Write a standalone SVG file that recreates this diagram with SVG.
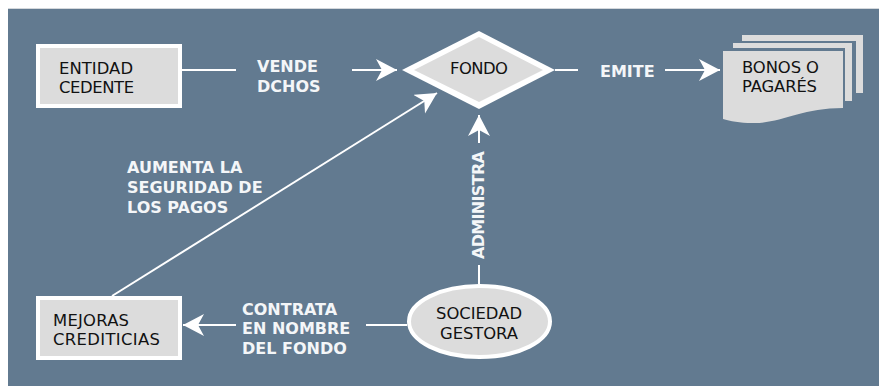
<svg xmlns="http://www.w3.org/2000/svg" width="879" height="387" viewBox="0 0 879 387">
<style>
.n{font-family:"DejaVu Sans","Liberation Sans",sans-serif;font-size:16.4px;fill:#111}
.l{font-family:"DejaVu Sans","Liberation Sans",sans-serif;font-size:16px;font-weight:bold;fill:#f4f6f8}
.box{fill:#dcdcdc;stroke:#fff;stroke-width:4}
.c{fill:none;stroke:#fff;stroke-width:2}
.p{fill:#dcdcdc}
</style>
<defs>
<marker id="a" markerUnits="userSpaceOnUse" markerWidth="24" markerHeight="24" refX="21" refY="11" orient="auto"><path d="M0 0L21 11L0 22L6 11Z" fill="#fff"/></marker>
</defs>
<rect width="879" height="387" fill="#fff"/>
<rect x="8" y="8" width="871" height="1" fill="#d4d8dc"/>
<rect x="8" y="9" width="871" height="377" fill="#627a90"/>
<g id="connectors">
<path class="c" d="M182 70H236"/>
<path class="c" d="M352 70H397" marker-end="url(#a)"/>
<path class="c" d="M555 70H578"/>
<path class="c" d="M665 70H720" marker-end="url(#a)"/>
<path class="c" d="M479 143V115" marker-end="url(#a)"/>
<path class="c" d="M479 265V284"/>
<path class="c" d="M112 296L437 93" marker-end="url(#a)"/>
<path class="c" d="M407 325H366"/>
<path class="c" d="M236 325H183" marker-end="url(#a)"/>
</g>
<g id="entidad"><rect class="box" x="38" y="46" width="142" height="60"/><text class="n" x="59" y="74" textLength="74">ENTIDAD</text><text class="n" x="59" y="93" textLength="75">CEDENTE</text></g>
<g id="fondo"><path d="M479 31L555 70L479 109L402 70Z" fill="#fff"/><path d="M479 37L543 70L479 102L414 70Z" fill="#dcdcdc"/><text class="n" x="450" y="74" textLength="58">FONDO</text></g>
<g id="bonos">
<path class="p" d="M742 35H863V93H856V41H742Z"/>
<path class="p" d="M733 43H852V101H845V48H733Z"/>
<path class="p" d="M723 51H843V108C800 108 780 124 752 123C740 123 730 121 723 119Z"/>
<text class="n" x="742" y="73" textLength="77">BONOS O</text><text class="n" x="742" y="92" textLength="75">PAGARÉS</text>
</g>
<g id="mejoras"><rect class="box" x="38" y="298" width="142" height="60"/><text class="n" x="53" y="326" textLength="76">MEJORAS</text><text class="n" x="53" y="345" textLength="107">CREDITICIAS</text></g>
<g id="sociedad"><ellipse cx="479.5" cy="321.5" rx="70.5" ry="35.5" fill="#dcdcdc" stroke="#fff" stroke-width="4"/><text class="n" x="479" y="319" text-anchor="middle" textLength="86">SOCIEDAD</text><text class="n" x="479" y="339" text-anchor="middle" textLength="78">GESTORA</text></g>
<g id="labels">
<text class="l" x="257" y="72">VENDE</text><text class="l" x="257" y="92">DCHOS</text>
<text class="l" x="600" y="77">EMITE</text>
<text class="l" x="127" y="173">AUMENTA LA</text><text class="l" x="127" y="193">SEGURIDAD DE</text><text class="l" x="127" y="213">LOS PAGOS</text>
<text class="l" x="242" y="315">CONTRATA</text><text class="l" x="242" y="334">EN NOMBRE</text><text class="l" x="242" y="354">DEL FONDO</text>
<text class="l" transform="translate(484 259) rotate(-90)" textLength="108">ADMINISTRA</text>
</g>
</svg>
